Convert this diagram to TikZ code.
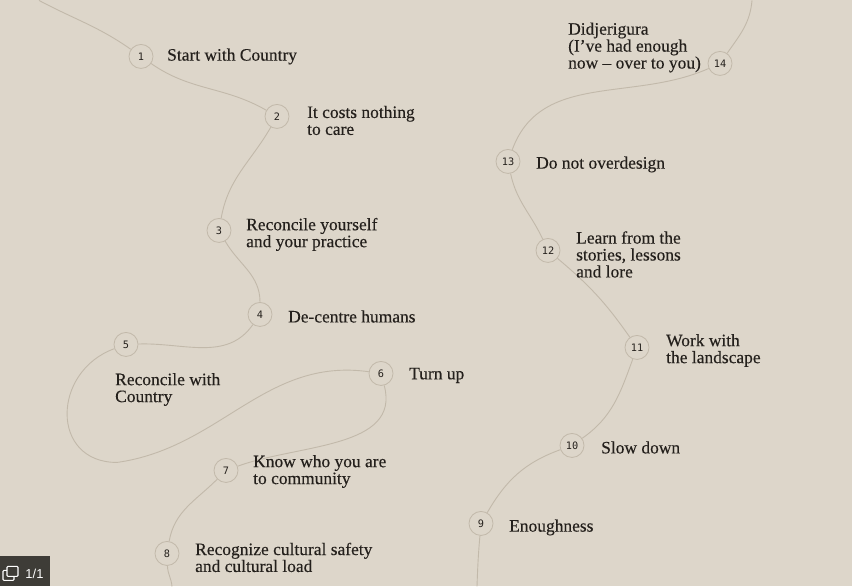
\documentclass[tikz,border=0pt]{standalone}
\usepackage{fontspec}
\setmainfont{Liberation Serif}
\newfontfamily\lblfont{Liberation Serif}[FakeBold=0.3,Ligatures=TeX]
\newfontfamily\numfont{DejaVu Sans Mono}
\newfontfamily\badgefont{Liberation Sans}
\usepackage{tikz}

\definecolor{paper}{RGB}{221,214,202}
\definecolor{trail}{RGB}{194,185,170}
\definecolor{ink}{RGB}{36,32,28}
\definecolor{badgebg}{RGB}{62,60,55}

\begin{document}
\begin{tikzpicture}[x=1bp,y=1bp,
  stopnode/.style={circle,draw=trail,fill=paper,line width=0.8bp,minimum size=24bp,
    inner sep=0pt,text=ink,font=\numfont\fontsize{10.3}{11}\selectfont},
  lbl/.style={anchor=west,align=left,inner sep=0pt,text=ink,
    font=\lblfont\fontsize{17.5}{17}\selectfont},
  trailline/.style={draw=trail,line width=0.9bp}]

    \fill[paper] (0,0) rectangle (852,586);

    % stops
    \node[stopnode] (n1)  at (141,530) {1};
    \node[stopnode] (n2)  at (277,470) {2};
    \node[stopnode] (n3)  at (219,356) {3};
    \node[stopnode] (n4)  at (260,272) {4};
    \node[stopnode] (n5)  at (126,242) {5};
    \node[stopnode] (n6)  at (381,213) {6};
    \node[stopnode] (n7)  at (226,116) {7};
    \node[stopnode] (n8)  at (167,33)  {8};
    \node[stopnode] (n9)  at (481,63)  {9};
    \node[stopnode] (n10) at (572,141) {10};
    \node[stopnode] (n11) at (637,239) {11};
    \node[stopnode] (n12) at (548,336) {12};
    \node[stopnode] (n13) at (508,425) {13};
    \node[stopnode] (n14) at (720,523) {14};

    \coordinate (top1)  at (39,586);
    \coordinate (loop5) at (117,124);
    \coordinate (bot8)  at (172,0);
    \coordinate (bot9)  at (477,0);
    \coordinate (top14) at (752,586);

    % the trail
    \draw[trailline] (top1) to[out=-28,in=145] (n1);
    \draw[trailline] (n1) to[out=-35,in=150] (n2);
    \draw[trailline] (n2) to[out=-120,in=80] (n3);
    \draw[trailline] (n3) to[out=-60,in=90] (n4);
    \draw[trailline] (n4) to[out=-125,in=2] (n5);
    \draw[trailline] (n5) to[out=200,in=180,looseness=1.5] (loop5)
                          to[out=8,in=172] (n6);
    \draw[trailline] (n6) to[out=-75,in=20] (n7);
    \draw[trailline] (n7) to[out=-135,in=80] (n8);
    \draw[trailline] (n8) to[out=-88,in=95] (bot8);
    \draw[trailline] (bot9) to[out=88,in=-95] (n9);
    \draw[trailline] (n9) to[out=60,in=200] (n10);
    \draw[trailline] (n10) to[out=35,in=-110] (n11);
    \draw[trailline] (n11) to[out=125,in=-40] (n12);
    \draw[trailline] (n12) to[out=115,in=-78] (n13);
    \draw[trailline] (n13) to[out=70,in=204] (n14);
    \draw[trailline] (n14) to[out=55,in=-95] (top14);

    % labels
    \node[lbl] (t1)  at (167,530) {Start with Country};
    \node[lbl] (t2)  at (307,466) {It costs nothing\\to care};
    \node[lbl] (t3)  at (246,352) {Reconcile yourself\\and your practice};
    \node[lbl] (t4)  at (288,270) {De-centre humans};
    \node[lbl] (t5)  at (115,197) {Reconcile with\\Country};
    \node[lbl] (t6)  at (409,211) {Turn up};
    \node[lbl] (t7)  at (253,115) {Know who you are\\to community};
    \node[lbl] (t8)  at (195,29)  {Recognize cultural safety\\and cultural load};
    \node[lbl] (t9)  at (509,59)  {Enoughness};
    \node[lbl] (t10) at (601,139) {Slow down};
    \node[lbl] (t11) at (666,236) {Work with\\the landscape};
    \node[lbl] (t12) at (576,332) {Learn from the\\stories, lessons\\and lore};
    \node[lbl] (t13) at (536,422) {Do not overdesign};
    \node[lbl] (t14) at (568,539) {Didjerigura\\(I’ve had enough\\now – over to you)};

    % page badge
    \fill[badgebg] (0,0) rectangle (50,30);
    \draw[white,line width=1.1bp,rounded corners=1bp] (3,6) rectangle (14,16);
    \filldraw[fill=badgebg,draw=white,line width=1.1bp,rounded corners=1bp] (7,10) rectangle (18,20);
    \node[text=white,font=\badgefont\fontsize{13}{13}\selectfont,inner sep=0pt] (pg) at (34.5,13) {1/1};

\end{tikzpicture}
\end{document}
